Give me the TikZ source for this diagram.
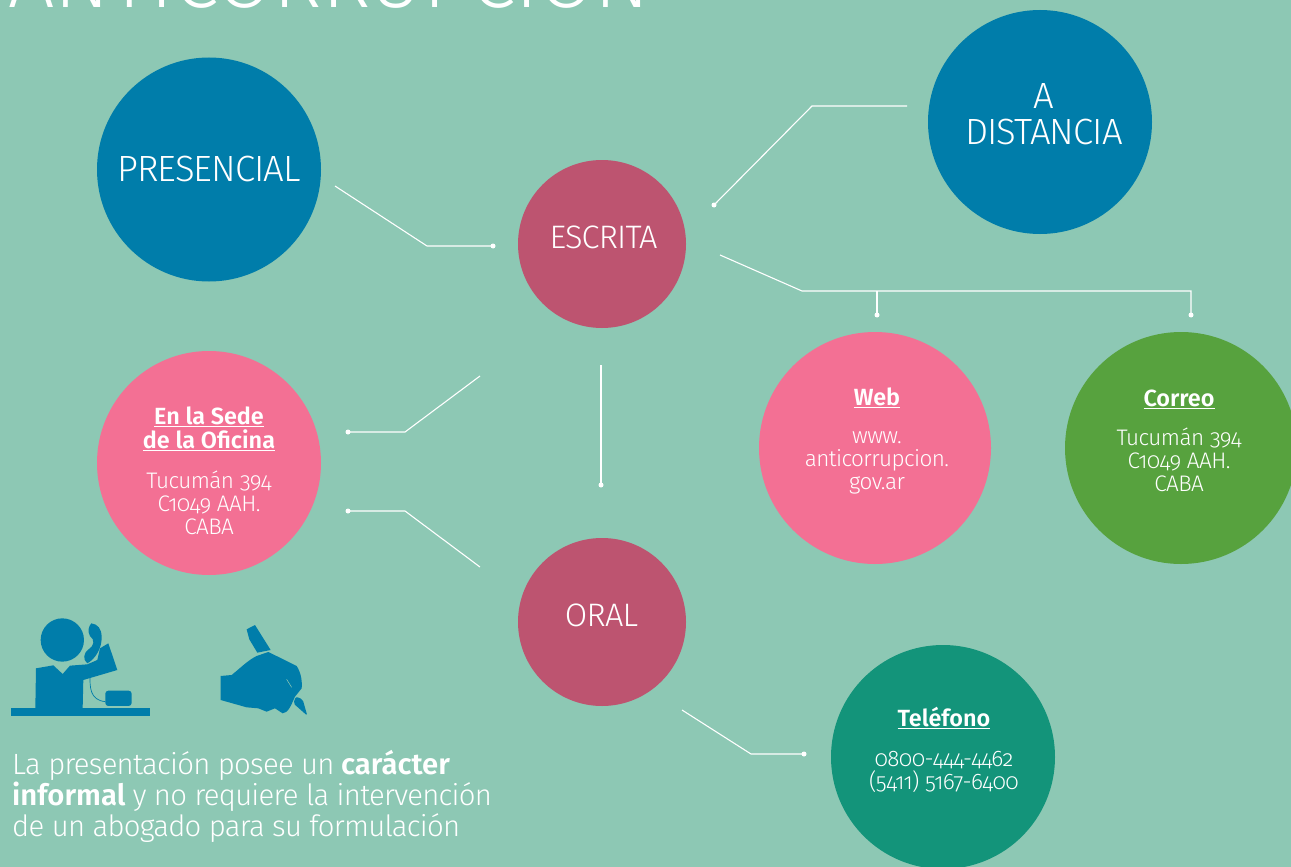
\documentclass[tikz,border=0pt]{standalone}
\usepackage{fontspec}
\setmainfont{Fira Sans Light}[Numbers=OldStyle,LetterSpace=-2.5,BoldFont={Fira Sans SemiBold},BoldFeatures={LetterSpace=0}]
\newfontfamily\titlefont{Fira Sans Light}
\definecolor{bgc}{HTML}{8DC8B4}
\definecolor{blu}{HTML}{007DAA}
\definecolor{cri}{HTML}{BD5470}
\definecolor{pnk}{HTML}{F37094}
\definecolor{grn}{HTML}{57A23E}
\definecolor{tea}{HTML}{13947A}
\tikzset{
  circ/.style={circle,inner sep=0pt},
  bigc/.style={circ,minimum size=224pt},
  midc/.style={circ,minimum size=168pt,fill=cri},
  lab/.style={inner sep=0pt,text=white,align=center},
  biglab/.style={lab,font=\fontsize{36.5}{36}\selectfont},
  midlab/.style={lab,font=\fontsize{32.5}{32}\selectfont},
  info/.style={lab,font=\fontsize{22.5}{23.2}\selectfont},
  conn/.style={draw=white,line width=1.1pt},
  dot/.style={circle,fill=white,inner sep=0pt,minimum size=5pt},
  icon/.style={fill=blu,draw=none}
}
\newcommand{\hd}[1]{{\fontsize{23.4}{24}\selectfont\bfseries\underline{#1}}}
\begin{document}
\begin{tikzpicture}[x=1pt,y=-1pt]
\path[use as bounding box,fill=bgc] (0,0) rectangle (1291,867);
\begin{scope}
\clip (0,0) rectangle (1291,867);
\node[anchor=base west,inner sep=0pt,text=white,font=\titlefont\fontsize{82}{82}\selectfont] (title) at (8,8) {ANTICORRUPCIÓN};
\end{scope}
\node[bigc,fill=blu] (pres) at (209,169.5) {};
\node[bigc,fill=blu] (dist) at (1040,122) {};
\node[midc] (esc) at (602,244) {};
\node[midc] (oral) at (602,622) {};
\node[bigc,fill=pnk] (sede) at (209,463) {};
\node[circ,minimum size=232pt,fill=pnk] (web) at (875,448) {};
\node[circ,minimum size=232pt,fill=grn] (correo) at (1181,448) {};
\node[bigc,fill=tea] (tel) at (943,757) {};
\node[biglab] (tpres) at (209,169) {PRESENCIAL};
\node[biglab] (tdist) at (1044,114) {A\\DISTANCIA};
\node[midlab] (tesc) at (603.5,237) {ESCRITA};
\node[midlab] (toral) at (601.5,615) {ORAL};
\node[info] (tsede) at (209,471) {\hd{En la Sede}\\\hd{de la Oficina}\\[17pt]Tucumán 394\\C1049 AAH.\\CABA};
\node[info] (tweb) at (877,441) {\hd{Web}\\[15pt]www.\\anticorrupcion.\\gov.ar};
\node[info] (tcorreo) at (1179,441) {\hd{Correo}\\[15pt]Tucumán 394\\C1049 AAH.\\CABA};
\node[info] (ttel) at (944,750) {\hd{Teléfono}\\[17pt]0800-444-4462\\(5411) 5167-6400};
\coordinate (c1a) at (335,186); \coordinate (c1b) at (427,246);
\node[dot] (d1) at (493,246) {};
\coordinate (c2a) at (907,106); \coordinate (c2b) at (812,106);
\node[dot] (d2) at (714,205) {};
\coordinate (c3a) at (720,255); \coordinate (c3b) at (802,291); \coordinate (c3c) at (1191,291); \coordinate (c3d) at (877,291);
\node[dot] (d3) at (1191,315) {};
\node[dot] (d4) at (877,315) {};
\coordinate (c5a) at (480,376); \coordinate (c5b) at (405,432);
\node[dot] (d5) at (348,432) {};
\coordinate (c6a) at (480,567); \coordinate (c6b) at (405,511);
\node[dot] (d6) at (348,511) {};
\coordinate (c7a) at (601,365);
\node[dot] (d7) at (601,485) {};
\coordinate (c8a) at (682,710); \coordinate (c8b) at (751,754);
\node[dot] (d8) at (804,754) {};
\draw[conn] (c1a) -- (c1b) -- (d1.center);
\draw[conn] (c2a) -- (c2b) -- (d2.center);
\draw[conn] (c3a) -- (c3b) -- (c3c) -- (d3.center);
\draw[conn] (c3d) -- (d4.center);
\draw[conn] (c5a) -- (c5b) -- (d5.center);
\draw[conn] (c6a) -- (c6b) -- (d6.center);
\draw[conn] (c7a) -- (d7.center);
\draw[conn] (c8a) -- (c8b) -- (d8.center);
% icons
\begin{scope}[x=0.3333pt,y=-0.3333pt,yshift=-600pt]
\fill[icon] (187,120) circle[radius=65];
\fill[icon] (34,323) rectangle (449,349);
\fill[icon] (108,205) -- (160,196) -- (188,222) -- (210,197) -- (262,193) -- (292,180) -- (300,145) -- (325,130) -- (352,210) -- (250,240) -- (248,325) -- (106,325) -- cycle;
\fill[icon] (274,70) .. controls (292,72) and (305,85) .. (305,112) .. controls (306,145) and (285,178) .. (262,190) .. controls (248,180) and (250,158) .. (266,148) .. controls (282,138) and (286,120) .. (270,108) .. controls (262,95) and (266,78) .. (274,70) -- cycle;
\fill[icon,rounded corners=3pt] (316,272) rectangle (395,318);
\draw[blu,line width=0.7pt] (270,225) .. controls (270,260) and (268,300) .. (316,305);
\fill[icon] (662,228) -- (695,225) .. controls (720,205) and (745,180) .. (770,168) -- (805,156) -- (850,178) -- (890,198) .. controls (905,220) and (907,250) .. (905,265) -- (885,290) .. controls (875,312) and (865,340) .. (848,340) -- (825,325) -- (800,335) -- (775,325) -- (740,322) -- (662,300) -- cycle;
\draw[bgc,line width=0.5pt] (860,238) -- (875,262);
\fill[icon] (740,88) -- (765,75) -- (812,150) -- (772,158) -- (748,118) -- cycle;
\fill[icon,rounded corners=2pt] (888,290) -- (908,298) -- (922,347) -- (880,310) -- cycle;
\end{scope}
\node[anchor=north west,inner sep=0pt,text=white,align=left,font=\fontsize{29.3}{31}\selectfont] (para) at (12,750.5) {La presentación posee un \textbf{carácter}\\\textbf{informal} y no requiere la intervención\\de un abogado para su formulación};
\end{tikzpicture}
\end{document}
